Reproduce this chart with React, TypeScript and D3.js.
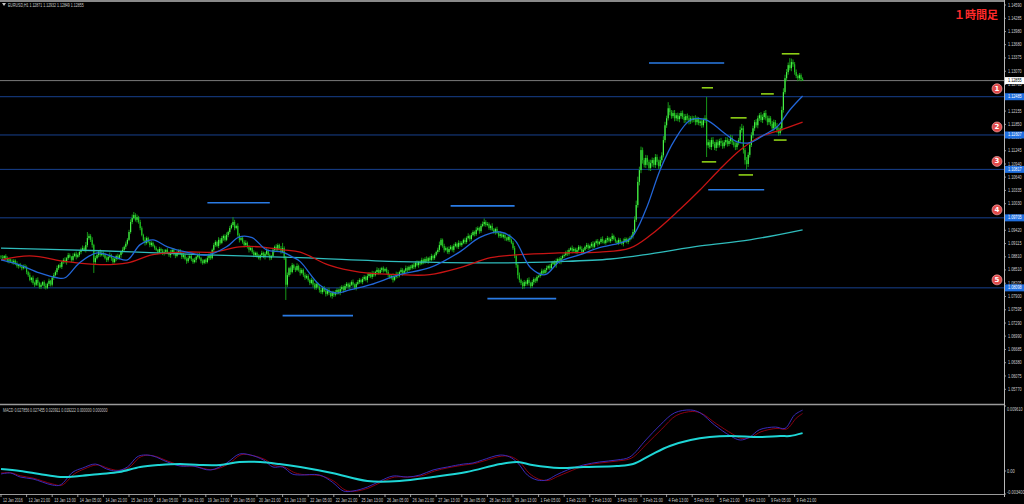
import React from "react";
import * as d3 from "d3";

const W = 1024;
const H = 504;

// ---- price data (pips above BASE), one value per H1 bar ----
const BASE = 1.07;
const firstOpen = 182;
const closes = [
  180,178,183,176,172,175,170,168,172,165,160,163,158,155,160,157,
  146,139,128,133,121,117,128,121,112,117,123,114,110,119,126,117,
  133,139,146,155,162,158,169,174,169,178,185,181,174,183,188,181,
  185,192,197,201,197,208,224,229,220,208,169,178,185,192,185,190,
  185,178,174,181,185,178,169,176,183,178,185,192,197,204,211,220,
  238,261,270,277,266,272,261,247,231,220,213,224,215,208,213,206,
  201,197,192,199,195,188,192,197,190,185,192,197,188,183,190,195,
  188,181,185,176,171,178,183,176,169,174,181,185,178,171,167,174,
  169,178,185,178,197,208,215,206,220,213,224,229,220,231,238,247,
  254,261,247,252,231,220,224,215,208,213,204,197,201,192,185,190,
  183,178,185,190,181,188,195,185,178,183,197,204,197,208,201,192,
  201,178,117,139,155,146,162,155,151,160,151,144,151,139,133,137,
  128,121,128,117,110,119,112,105,100,110,103,96,105,98,91,100,
  94,100,105,98,107,112,105,114,119,112,117,123,117,110,119,123,
  128,123,130,135,128,137,142,135,144,139,146,151,144,151,155,149,
  153,146,139,133,137,128,135,142,137,146,151,144,149,155,151,158,
  155,162,158,167,162,169,165,174,169,176,171,178,174,183,178,185,
  192,197,208,220,206,197,201,192,199,204,197,206,211,204,213,208,
  213,220,215,224,229,222,231,238,233,243,247,240,252,256,261,254,
  256,247,252,243,238,245,236,229,233,227,231,224,220,227,220,213,
  201,183,162,139,128,121,114,123,119,128,121,114,123,130,126,135,
  137,142,149,144,151,155,160,155,165,169,162,171,176,169,178,183,
  185,192,188,197,201,195,199,192,197,204,199,192,197,204,208,201,
  206,211,204,213,217,211,215,222,217,213,220,224,217,222,229,222,
  217,213,220,215,211,217,222,215,220,224,229,238,266,300,353,380,
  426,403,392,408,399,385,396,403,392,410,399,389,403,414,449,483,
  499,522,513,504,511,499,506,497,504,511,502,495,504,499,492,499,
  495,499,490,497,488,492,483,495,499,437,444,433,449,440,431,444,
  437,447,442,435,444,449,440,447,454,444,437,433,442,449,472,476,
  426,403,394,415,438,460,476,490,483,499,506,495,502,511,499,490,
  499,486,476,490,481,472,465,476,518,559,591,605,621,614,628,623,
  605,596,591,598,589,585.5,
];
const wickUp = [
  3,5,2,4,6,3,2,5,4,3,6,2,4,5,3,4, 4,3,6,2,5,3,4,6,3,5,2,4,6,3,5,2,
  3,5,4,6,2,5,3,4,6,3,5,4,2,6,3,5, 4,3,5,6,4,7,14,5,4,6,3,5,4,3,6,4,
  3,5,4,2,6,3,5,4,3,5,2,4,6,3,5,4, 5,6,8,7,4,6,3,5,4,3,6,4,3,5,4,3,
  3,4,2,5,3,4,6,2,4,3,5,2,4,3,5,3, 4,3,5,2,4,6,3,4,2,5,3,4,6,3,4,2,
  3,5,4,6,3,5,4,3,6,4,5,3,4,6,3,5, 4,11,5,3,6,4,3,5,4,6,3,4,5,3,4,3,
  3,4,2,5,3,4,6,3,4,2,5,3,6,4,3,5, 12,4,5,6,3,4,5,3,4,6,3,5,4,3,6,4,
  4,3,5,3,4,6,3,4,5,3,4,6,3,5,4,3, 3,5,4,3,6,4,3,5,4,3,5,4,6,3,4,5,
  4,3,5,4,3,6,4,3,5,4,3,6,4,5,3,4, 3,4,5,3,4,6,3,5,4,3,5,4,3,6,4,3,
  4,3,5,4,6,3,4,5,3,4,6,3,4,5,3,4, 3,5,8,4,3,5,4,3,6,4,3,5,4,3,6,4,
  4,3,5,4,6,3,5,4,3,6,4,3,5,6,8,4, 5,4,3,6,4,3,5,4,6,3,4,5,3,4,6,3,
  4,5,3,4,6,3,4,5,3,4,6,3,5,4,3,4, 3,4,5,3,4,6,3,4,5,3,4,6,3,4,5,3,
  4,3,5,4,3,6,4,3,5,4,3,6,4,3,5,4, 3,4,6,3,4,5,3,4,6,3,4,5,3,4,6,3,
  4,3,5,4,3,6,4,3,5,4,3,6,8,10,12,8, 8,6,5,7,6,5,8,6,5,7,6,5,8,7,9,8,
  6,14,7,5,6,7,5,6,7,5,6,7,5,6,7,5, 6,5,7,6,5,7,6,5,7,49,7,5,6,7,5,6,
  6,5,7,6,5,7,6,5,7,6,5,7,6,5,8,10, 6,5,7,6,5,7,6,5,7,6,5,7,6,5,7,6,
  6,5,7,6,5,7,6,5,8,9,8,7,6,16,8,6, 5,6,4,5,4,4,
];
const wickDn = [
  4,3,5,2,4,6,3,4,5,3,4,6,2,5,3,4, 5,4,3,6,4,5,3,6,4,5,3,6,4,3,5,4,
  4,5,3,6,4,3,5,4,3,6,4,3,5,4,3,6, 3,4,5,3,4,6,5,4,5,6,25,4,3,5,4,3,
  4,3,5,4,3,6,4,3,5,4,3,6,4,3,5,4, 3,4,5,3,4,6,4,5,3,4,6,4,3,5,4,3,
  4,3,5,4,6,3,4,5,3,4,6,3,4,5,3,4, 3,5,4,3,6,4,3,5,4,3,6,4,3,5,4,3,
  4,3,5,4,3,6,4,3,5,4,3,6,4,3,5,4, 3,4,5,3,4,6,3,4,5,3,4,6,3,4,5,3,
  4,3,5,4,3,6,4,3,5,4,3,6,4,3,5,4, 3,4,35,5,4,6,3,4,5,3,4,6,3,4,5,3,
  4,5,3,6,4,5,3,6,4,5,3,6,4,5,3,6, 5,4,6,3,5,4,6,3,5,4,6,3,5,4,6,3,
  4,3,5,4,3,6,4,3,5,4,3,6,4,3,5,4, 3,4,5,3,4,6,3,4,5,3,4,6,3,4,5,3,
  4,3,5,4,3,6,4,3,5,4,3,6,4,3,5,4, 3,4,5,3,4,6,3,4,5,3,4,6,3,4,5,3,
  4,3,5,4,3,6,4,3,5,4,3,6,4,3,5,4, 3,4,5,3,4,6,3,4,5,3,4,6,3,4,5,3,
  4,5,6,8,6,5,7,6,5,4,6,5,4,6,5,4, 3,4,5,3,4,6,3,4,5,3,4,6,3,4,5,3,
  4,3,5,4,3,6,4,3,5,4,3,6,4,3,5,4, 3,4,5,3,4,6,3,4,5,3,4,6,3,4,5,3,
  4,3,5,4,3,6,4,3,5,4,3,6,4,5,6,8, 7,8,6,7,8,6,7,8,6,7,8,6,7,6,5,6,
  6,5,7,6,5,7,6,5,7,6,5,7,6,5,7,6, 6,5,7,6,5,7,6,5,7,27,6,5,7,6,5,7,
  6,5,7,6,5,7,6,5,7,6,5,7,6,5,7,6, 8,10,13,7,6,5,7,6,5,7,6,5,7,6,5,7,
  6,5,7,6,5,7,6,5,7,6,5,7,6,5,7,6, 6,5,7,6,5,1,
];

// moving averages, [bar, pips]
const maFast: [number, number][] = [
  [0,174],[12,162],[24,144],[35,133],[40,133],[49,167],[60,190],[72,179],[79,174],[87,209],[95,220],
  [104,204],[116,192],[129,185],[141,204],[149,227],[157,225],[166,197],[176,192],[182,181],[187,170],
  [199,117],[209,98],[218,105],[231,117],[249,140],[268,156],[287,193],[299,225],[312,238],[321,220],
  [331,156],[340,140],[349,170],[362,186],[374,202],[387,213],[394,225],[403,289],[412,381],[421,449],
  [431,495],[441,495],[451,468],[460,445],[468,443],[477,461],[485,479],[493,518],[501,550],
];
const maMid: [number, number][] = [
  [0,174],[18,183],[41,170],[62,163],[79,167],[95,186],[116,192],[133,192],[149,204],[162,204],[176,197],
  [187,192],[205,162],[224,146],[249,140],[268,140],[287,156],[306,179],[324,186],[349,190],[374,192],
  [393,201],[406,231],[424,289],[437,335],[449,381],[462,426],[474,456],[487,472],[501,490],
];
const maSlow: [number, number][] = [
  [0,201],[62,195],[124,186],[187,179],[249,170],[312,167],[349,170],[381,176],[406,188],[437,206],
  [468,220],[501,243],
];

// horizontal levels
const levels = [1.12485, 1.11607, 1.10817, 1.09705, 1.08098];
const levelNames = ["1", "2", "3", "4", "5"];
const currentPrice = 1.12855;
const priceTicks = [
  1.1459, 1.14285, 1.1398, 1.1368, 1.13375, 1.1307, 1.12765, 1.1246, 1.12155, 1.1185, 1.1155,
  1.11245, 1.1094, 1.1064, 1.10335, 1.1003, 1.09725, 1.0942, 1.09115, 1.0881, 1.0851, 1.08205,
  1.079, 1.07595, 1.0729, 1.0699, 1.06685, 1.0638, 1.06075, 1.0577,
];
// short markers: [fromBar, toBar, pips]
const greenSegs: [number, number, number][] = [
  [438,445,569],[438,447,399],[456,466,500],[461,470,369],[475,483,555],[483,491,449],[488,499,647],
];
const blueSegs: [number, number, number][] = [
  [129,168,305],[176,220,46],[281,321,298],[304,347,85],[405,452,626],[442,477,335],
];

const timeLabels = [
  "12 Jan 2016","12 Jan 21:00","13 Jan 13:00","14 Jan 05:00","14 Jan 21:00","15 Jan 13:00",
  "18 Jan 05:00","18 Jan 21:00","19 Jan 13:00","20 Jan 05:00","20 Jan 21:00","21 Jan 13:00",
  "22 Jan 05:00","22 Jan 21:00","25 Jan 13:00","26 Jan 05:00","26 Jan 21:00","27 Jan 13:00",
  "28 Jan 05:00","28 Jan 21:00","29 Jan 13:00","1 Feb 05:00","1 Feb 21:00","2 Feb 13:00",
  "3 Feb 05:00","3 Feb 21:00","4 Feb 13:00","5 Feb 05:00","5 Feb 21:00","8 Feb 13:00",
  "9 Feb 05:00","9 Feb 21:00",
];

// MACD window, [bar, value]
const macdBlue: [number, number][] = [
  [0,-0.00044],[6,-0.0003],[12,-0.00089],[20,-0.00118],[32,-0.00207],[37,-0.00207],[45,-0.00015],
  [51,0.00044],[59,0.00103],[66,0.0003],[72,0],[79,0.00059],[85,0.00207],[89,0.00236],[95,0.00222],
  [104,0.00133],[112,0.00074],[120,0.00074],[131,0.00015],[141,0.00118],[149,0.00251],[156,0.00236],
  [164,0.00163],[170,0.00059],[176,0.00059],[182,-0.00044],[187,-0.00059],[199,-0.00059],[207,-0.00163],
  [214,-0.00296],[220,-0.00296],[229,-0.00237],[237,-0.00148],[245,-0.00074],[254,-0.00089],[262,-0.00059],
  [270,0.00015],[279,0.00059],[289,0.00103],[295,0.00118],[301,0.00163],[312,0.00236],[318,0.00207],
  [323,0.00118],[329,-0.00059],[335,-0.00133],[341,-0.00133],[347,-0.00059],[354,0.00015],[364,0.00089],
  [374,0.00133],[385,0.00163],[393,0.00207],[403,0.00458],[412,0.0068],[421,0.0086],[431,0.00902],
  [437,0.0086],[446,0.0068],[456,0.00517],[462,0.00458],[468,0.00502],[474,0.0061],[484,0.0065],
  [490,0.0063],[496,0.0083],[501,0.009],
];
const macdRed: [number, number][] = [
  [0,-0.0003],[6,-0.00025],[12,-0.0007],[20,-0.00105],[32,-0.0019],[38,-0.0021],[46,-0.0004],[52,0.0003],
  [60,0.0009],[67,0.0004],[73,0.0001],[80,0.0005],[86,0.0019],[90,0.0023],[96,0.0022],[105,0.0014],
  [113,0.0008],[121,0.0007],[132,0.0002],[142,0.001],[150,0.0024],[157,0.0023],[165,0.0017],[171,0.0008],
  [177,0.0006],[183,-0.0002],[188,-0.0005],[200,-0.0007],[208,-0.0015],[215,-0.0028],[221,-0.003],
  [230,-0.0025],[238,-0.0016],[246,-0.0009],[255,-0.0009],[263,-0.0007],[271,0],[280,0.0005],[290,0.0009],
  [296,0.0011],[302,0.0015],[313,0.0022],[319,0.0021],[324,0.0014],[330,-0.0003],[336,-0.0012],
  [342,-0.0014],[348,-0.0008],[355,-0.0001],[365,0.0008],[375,0.0012],[386,0.0015],[394,0.0019],
  [404,0.0041],[413,0.0062],[422,0.0082],[432,0.0088],[438,0.0085],[447,0.007],[457,0.0055],[463,0.0048],
  [469,0.005],[475,0.0058],[485,0.0063],[491,0.0062],[497,0.0078],[501,0.0085],
];
const macdCyan: [number, number][] = [
  [0,0.0003],[12,0],[24,-0.00044],[37,-0.00089],[49,-0.00074],[62,-0.00044],[74,-0.00015],[87,0.00059],
  [99,0.00089],[112,0.00103],[124,0.00089],[137,0.00089],[149,0.00133],[162,0.00133],[174,0.00103],
  [187,0.00059],[207,-0.0003],[229,-0.00148],[249,-0.00148],[270,-0.00089],[291,-0.00015],[312,0.00103],
  [323,0.00133],[332,0.00089],[349,0.00044],[364,0.00059],[385,0.00074],[395,0.00103],[406,0.00236],
  [418,0.0037],[431,0.00458],[443,0.00502],[456,0.00517],[474,0.00502],[487,0.00517],[493,0.00517],
  [501,0.0056],
];
const macdTicks = [0.00961, 0, -0.0034];
const macdTickLabels = ["0.009610", "0.00", "-0.003400"];

const titleText = "EURUSD,H1  1.12871 1.12932 1.12849 1.12855";
const macdTitle = "MACD 0.027856 0.027455 0.020911 0.019222 0.000000 0.000000";

const AXIS_X = 1004;
const MAIN_BOTTOM = 404;
const SUB_BOTTOM = 494;
const smallFont = "'Liberation Sans', Arial, sans-serif";
const CHAR_W = 1.8;
const AXIS_CHAR_W = 1.95;

export default function App() {
  const n = Math.min(closes.length, wickUp.length, wickDn.length);
  const xBar = d3.scaleLinear().domain([0, 501]).range([1, 1 + 1.6 * 501]);
  const yP = d3.scaleLinear().domain([1.06075, 1.1459]).range([376, 5]);
  const yM = d3.scaleLinear().domain([-0.0034, 0.00961]).range([SUB_BOTTOM, 406]);
  const pip = (v: number) => BASE + v / 10000;

  const candles = d3.range(n).map((i) => {
    const c = closes[i];
    const o = i === 0 ? firstOpen : closes[i - 1];
    return { i, o, c, hi: Math.max(o, c) + wickUp[i], lo: Math.min(o, c) - wickDn[i] };
  });

  const maLine = d3
    .line<[number, number]>()
    .x((d) => xBar(d[0]))
    .y((d) => yP(pip(d[1])))
    .curve(d3.curveCatmullRom.alpha(0.5));
  const macdLine = d3
    .line<[number, number]>()
    .x((d) => xBar(d[0]))
    .y((d) => yM(d[1]))
    .curve(d3.curveCatmullRom.alpha(0.5));

  const axisText = (label: string, x: number, y: number, fill: string, key: string) => (
    <text
      key={key}
      x={x}
      y={y}
      fill={fill}
      fontSize={4.8}
      dominantBaseline="central"
      fontFamily={smallFont}
      textLength={label.length * AXIS_CHAR_W}
      lengthAdjust="spacingAndGlyphs"
    >
      {label}
    </text>
  );

  return (
    <svg
      width={W}
      height={H}
      style={{ position: "fixed", left: 0, top: 0, display: "block", background: "#000" }}
    >
      <defs>
        <clipPath id="mainClip">
          <rect x={0} y={2} width={AXIS_X} height={MAIN_BOTTOM - 2} />
        </clipPath>
        <clipPath id="subClip">
          <rect x={0} y={MAIN_BOTTOM + 1} width={AXIS_X} height={SUB_BOTTOM - MAIN_BOTTOM - 1} />
        </clipPath>
      </defs>
      <rect x={0} y={0} width={W} height={H} fill="#000" />

      {/* frame */}
      <line x1={0} x2={AXIS_X} y1={1} y2={1} stroke="#8a8a8a" strokeWidth={2} />
      <line x1={AXIS_X + 0.5} x2={AXIS_X + 0.5} y1={0} y2={SUB_BOTTOM + 3} stroke="#b8b8b8" strokeWidth={1} />
      <line x1={0} x2={AXIS_X} y1={MAIN_BOTTOM + 0.5} y2={MAIN_BOTTOM + 0.5} stroke="#9a9a9a" strokeWidth={1.5} />
      <line x1={0} x2={AXIS_X} y1={SUB_BOTTOM + 0.5} y2={SUB_BOTTOM + 0.5} stroke="#9a9a9a" strokeWidth={1} />

      <g clipPath="url(#mainClip)">
        {levels.map((p, k) => (
          <line key={"lv" + k} x1={0} x2={AXIS_X} y1={yP(p)} y2={yP(p)} stroke="#17408f" strokeWidth={1} />
        ))}
        <line x1={0} x2={AXIS_X} y1={yP(currentPrice)} y2={yP(currentPrice)} stroke="#7a7a7a" strokeWidth={1} />

        {candles.map((d) => (
          <line
            key={"w" + d.i}
            x1={xBar(d.i)}
            x2={xBar(d.i)}
            y1={yP(pip(d.hi))}
            y2={yP(pip(d.lo))}
            stroke="#1aa81a"
            strokeWidth={0.9}
          />
        ))}
        {candles.map((d) => {
          const y1 = yP(pip(Math.max(d.o, d.c)));
          const y2 = yP(pip(Math.min(d.o, d.c)));
          return (
            <rect
              key={"b" + d.i}
              x={xBar(d.i) - 0.6}
              width={1.2}
              y={y1}
              height={Math.max(0.8, y2 - y1)}
              fill={d.c >= d.o ? "#46f046" : "#22c022"}
            />
          );
        })}

        <path d={maLine(maSlow) || ""} fill="none" stroke="#2fbcbc" strokeWidth={1.3} />
        <path d={maLine(maMid) || ""} fill="none" stroke="#c81414" strokeWidth={1.3} />
        <path d={maLine(maFast) || ""} fill="none" stroke="#2266d8" strokeWidth={1.3} />

        {blueSegs.map((s, k) => (
          <line key={"bs" + k} x1={xBar(s[0])} x2={xBar(s[1])} y1={yP(pip(s[2]))} y2={yP(pip(s[2]))} stroke="#2a7be4" strokeWidth={1.6} />
        ))}
        {greenSegs.map((s, k) => (
          <line key={"gs" + k} x1={xBar(s[0])} x2={xBar(s[1])} y1={yP(pip(s[2]))} y2={yP(pip(s[2]))} stroke="#8ed016" strokeWidth={1.6} />
        ))}

        {levels.map((p, k) => (
          <g key={"ln" + k}>
            <circle cx={997} cy={yP(p) - 8} r={5} fill="#e04a4a" stroke="#ffb4b4" strokeWidth={0.6} />
            <text x={997} y={yP(p) - 8} fill="#ffffff" fontSize={7} fontWeight="bold" textAnchor="middle" dominantBaseline="central" fontFamily="'DejaVu Sans', sans-serif">
              {levelNames[k]}
            </text>
          </g>
        ))}
        <text x={954} y={19} fill="#ff2a2a" fontSize={11} fontWeight="bold" fontFamily="'Noto Sans CJK JP', sans-serif">
          １時間足
        </text>
      </g>

      {/* title */}
      <path d="M2,3 L6,3 L4,6 Z" fill="#c8c8c8" />
      <text x={8} y={5} fill="#c8c8c8" fontSize={5} dominantBaseline="central" fontFamily={smallFont} textLength={titleText.length * CHAR_W} lengthAdjust="spacingAndGlyphs">
        {titleText}
      </text>

      {/* price axis */}
      {priceTicks.map((p, k) => (
        <g key={"pt" + k}>
          <line x1={AXIS_X} x2={AXIS_X + 2} y1={yP(p)} y2={yP(p)} stroke="#b8b8b8" strokeWidth={0.8} />
          {axisText(p.toFixed(5), AXIS_X + 4, yP(p), "#cfcfcf", "ptt" + k)}
        </g>
      ))}
      {levels.map((p, k) => (
        <g key={"lb" + k}>
          <rect x={AXIS_X + 1} y={yP(p) - 3.5} width={W - AXIS_X - 1} height={7} fill="#1f6fe0" />
          {axisText(p.toFixed(5), AXIS_X + 4, yP(p), "#ffffff", "lbt" + k)}
        </g>
      ))}
      <rect x={AXIS_X + 1} y={yP(currentPrice) - 3.5} width={W - AXIS_X - 1} height={7} fill="#ffffff" />
      {axisText(currentPrice.toFixed(5), AXIS_X + 4, yP(currentPrice), "#000000", "cur")}

      {/* MACD window */}
      <text x={3} y={MAIN_BOTTOM + 5.5} fill="#c8c8c8" fontSize={5} dominantBaseline="central" fontFamily={smallFont} textLength={macdTitle.length * CHAR_W} lengthAdjust="spacingAndGlyphs">
        {macdTitle}
      </text>
      <g clipPath="url(#subClip)">
        <path d={macdLine(macdRed) || ""} fill="none" stroke="#8a0010" strokeWidth={1} />
        <path d={macdLine(macdBlue) || ""} fill="none" stroke="#3a2ab8" strokeWidth={1} />
        <path d={macdLine(macdCyan) || ""} fill="none" stroke="#1ed6d6" strokeWidth={2} />
      </g>
      {macdTicks.map((v, k) => (
        <g key={"mt" + k}>
          <line x1={AXIS_X} x2={AXIS_X + 2} y1={yM(v)} y2={yM(v)} stroke="#b8b8b8" strokeWidth={0.8} />
          {axisText(macdTickLabels[k], AXIS_X + 3, k === 0 ? yM(v) + 3 : k === 2 ? yM(v) - 2 : yM(v), "#cfcfcf", "mtt" + k)}
        </g>
      ))}

      {/* time axis */}
      {timeLabels.map((t, k) => {
        const x = xBar(k * 16);
        return (
          <g key={"tl" + k}>
            <line x1={x} x2={x} y1={SUB_BOTTOM} y2={SUB_BOTTOM + 3} stroke="#b8b8b8" strokeWidth={0.8} />
            <text x={x + 2} y={SUB_BOTTOM + 5.5} fill="#cfcfcf" fontSize={5} dominantBaseline="central" fontFamily={smallFont} textLength={t.length * CHAR_W} lengthAdjust="spacingAndGlyphs">
              {t}
            </text>
          </g>
        );
      })}
    </svg>
  );
}
